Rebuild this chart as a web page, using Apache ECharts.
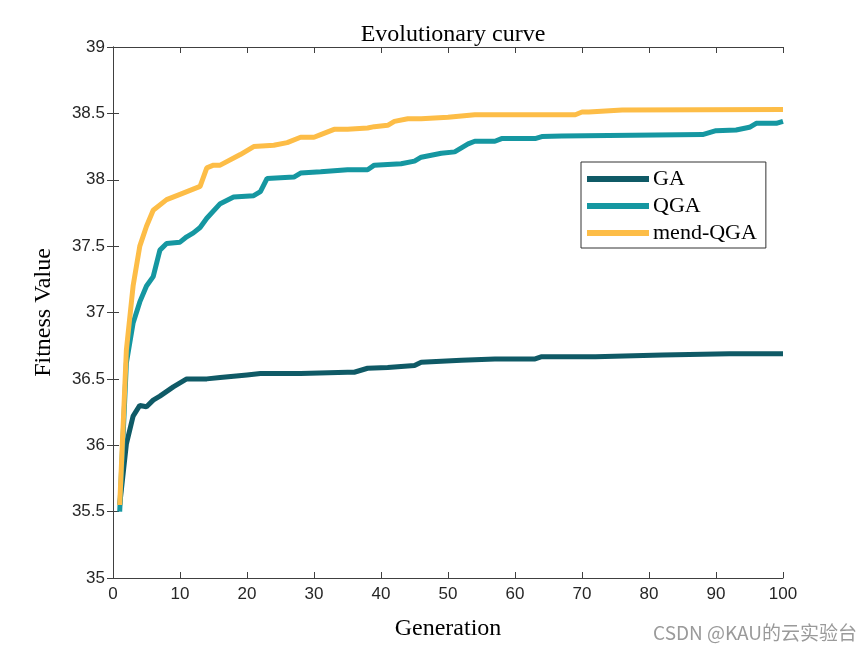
<!DOCTYPE html>
<html>
<head>
<meta charset="utf-8">
<script src="https://cdn.jsdelivr.net/npm/echarts@6/dist/echarts.min.js"></script>
<style>html,body{margin:0;padding:0;background:#fff;}#c{width:865px;height:649px;}</style>
</head>
<body>
<div id="c"></div>
<script>
// Data (generation, fitness value breakpoints)
const gaGen = [1,2,3,4,5,6,7,9,11,14,16,18,20,22,28,35,36,38,41,45,46,52,57,63,64,72,82,92,100];
const gaVal = [35.55,36.01,36.22,36.30,36.29,36.34,36.37,36.44,36.50,36.50,36.51,36.52,36.53,36.54,36.54,36.55,36.55,36.58,36.585,36.60,36.625,36.64,36.65,36.65,36.667,36.667,36.68,36.69,36.69];

const qgaGen = [1,2,3,4,5,6,7,8,10,11,12,13,14,16,18,21,22,23,27,28,31,35,38,39,43,45,46,49,51,53,54,57,58,63,64,67,88,90,93,95,96,99,100];
const qgaVal = [35.50,36.62,36.92,37.08,37.20,37.27,37.47,37.52,37.53,37.57,37.60,37.64,37.71,37.82,37.87,37.88,37.91,38.01,38.02,38.05,38.06,38.075,38.075,38.11,38.12,38.14,38.17,38.20,38.21,38.27,38.29,38.29,38.31,38.31,38.325,38.33,38.34,38.37,38.375,38.395,38.425,38.425,38.44];

const mqGen = [1,2,3,4,5,6,8,10,13,14,15,16,19,21,24,26,28,30,31,33,35,38,39,41,42,44,46,50,52,54,69,70,71,76,100];
const mqVal = [35.55,36.72,37.20,37.50,37.65,37.77,37.85,37.89,37.95,38.09,38.11,38.11,38.19,38.25,38.26,38.28,38.32,38.32,38.34,38.38,38.38,38.39,38.40,38.41,38.44,38.46,38.46,38.47,38.48,38.49,38.49,38.51,38.51,38.525,38.53];

const seriesNames = ['GA','QGA','mend-QGA'];
const xTicks = {min:0, max:100, interval:10};
const yTicks = {min:35, max:39, interval:0.5};

const pair = (g, v) => g.map((x, i) => [x, v[i]]);
const colors = ['#0f5a66','#1597a1','#fdbd47'];
const serif = '"Liberation Serif","Times New Roman",serif';
const sans = '"Liberation Sans",Arial,sans-serif';
const axisColor = '#404040';

const chart = echarts.init(document.getElementById('c'), null, {renderer:'canvas'});
const mkSeries = (name, data, color) => ({
  name, type:'line', data, showSymbol:false, symbol:'none', smooth:false,
  lineStyle:{color, width:5}, itemStyle:{color}, animation:false, z:2
});
chart.setOption({
  animation:false,
  backgroundColor:'#fff',
  title:{text:'Evolutionary curve', left:448, top:18, textAlign:'center',
    textStyle:{fontFamily:serif, fontSize:24, fontWeight:'normal', color:'#000'}},
  grid:{left:113, right:82, top:47, bottom:71, containLabel:false},
  legend:{
    orient:'vertical', left:581, top:162, data:seriesNames,
    icon:'rect', itemWidth:62, itemHeight:6, itemGap:5,
    padding:[6,9,4,6], borderColor:'#333', borderWidth:1, backgroundColor:'#fff',
    textStyle:{fontFamily:serif, fontSize:22, color:'#000', padding:[0,0,0,-1]}
  },
  xAxis:[{
    type:'value', min:xTicks.min, max:xTicks.max, interval:xTicks.interval,
    name:'Generation', nameLocation:'middle', nameGap:39,
    nameTextStyle:{fontFamily:serif, fontSize:24, color:'#000'},
    axisLine:{show:true, lineStyle:{color:axisColor, width:1}},
    axisTick:{show:true, inside:true, length:6, lineStyle:{color:axisColor}},
    axisLabel:{fontFamily:sans, fontSize:17, color:'#262626', margin:8},
    splitLine:{show:false}
  },{
    type:'value', position:'top', min:xTicks.min, max:xTicks.max, interval:xTicks.interval,
    axisLine:{show:true, lineStyle:{color:axisColor, width:1}},
    axisTick:{show:true, inside:true, length:6, lineStyle:{color:axisColor}},
    axisLabel:{show:false}, splitLine:{show:false}
  }],
  yAxis:[{
    type:'value', min:yTicks.min, max:yTicks.max, interval:yTicks.interval,
    name:'Fitness Value', nameLocation:'middle', nameGap:57,
    nameTextStyle:{fontFamily:serif, fontSize:24, color:'#000'},
    axisLine:{show:true, lineStyle:{color:axisColor, width:1}},
    axisTick:{show:true, inside:true, length:6, lineStyle:{color:axisColor}},
    axisLabel:{fontFamily:sans, fontSize:17, color:'#262626', margin:8},
    splitLine:{show:false}
  },{
    type:'value', position:'right', min:yTicks.min, max:yTicks.max, interval:yTicks.interval,
    axisLine:{show:true, lineStyle:{color:axisColor, width:1}},
    axisTick:{show:true, inside:true, length:6, lineStyle:{color:axisColor}},
    axisLabel:{show:false}, splitLine:{show:false}
  }],
  series:[
    mkSeries(seriesNames[0], pair(gaGen, gaVal), colors[0]),
    mkSeries(seriesNames[1], pair(qgaGen, qgaVal), colors[1]),
    mkSeries(seriesNames[2], pair(mqGen, mqVal), colors[2])
  ],
  graphic:[{
    type:'text', right:8, bottom:7,
    style:{text:'CSDN @KAU的云实验台', font:'19px "Noto Sans CJK SC", sans-serif', fill:'#9a9a9a'}
  }]
});
</script>
</body>
</html>
